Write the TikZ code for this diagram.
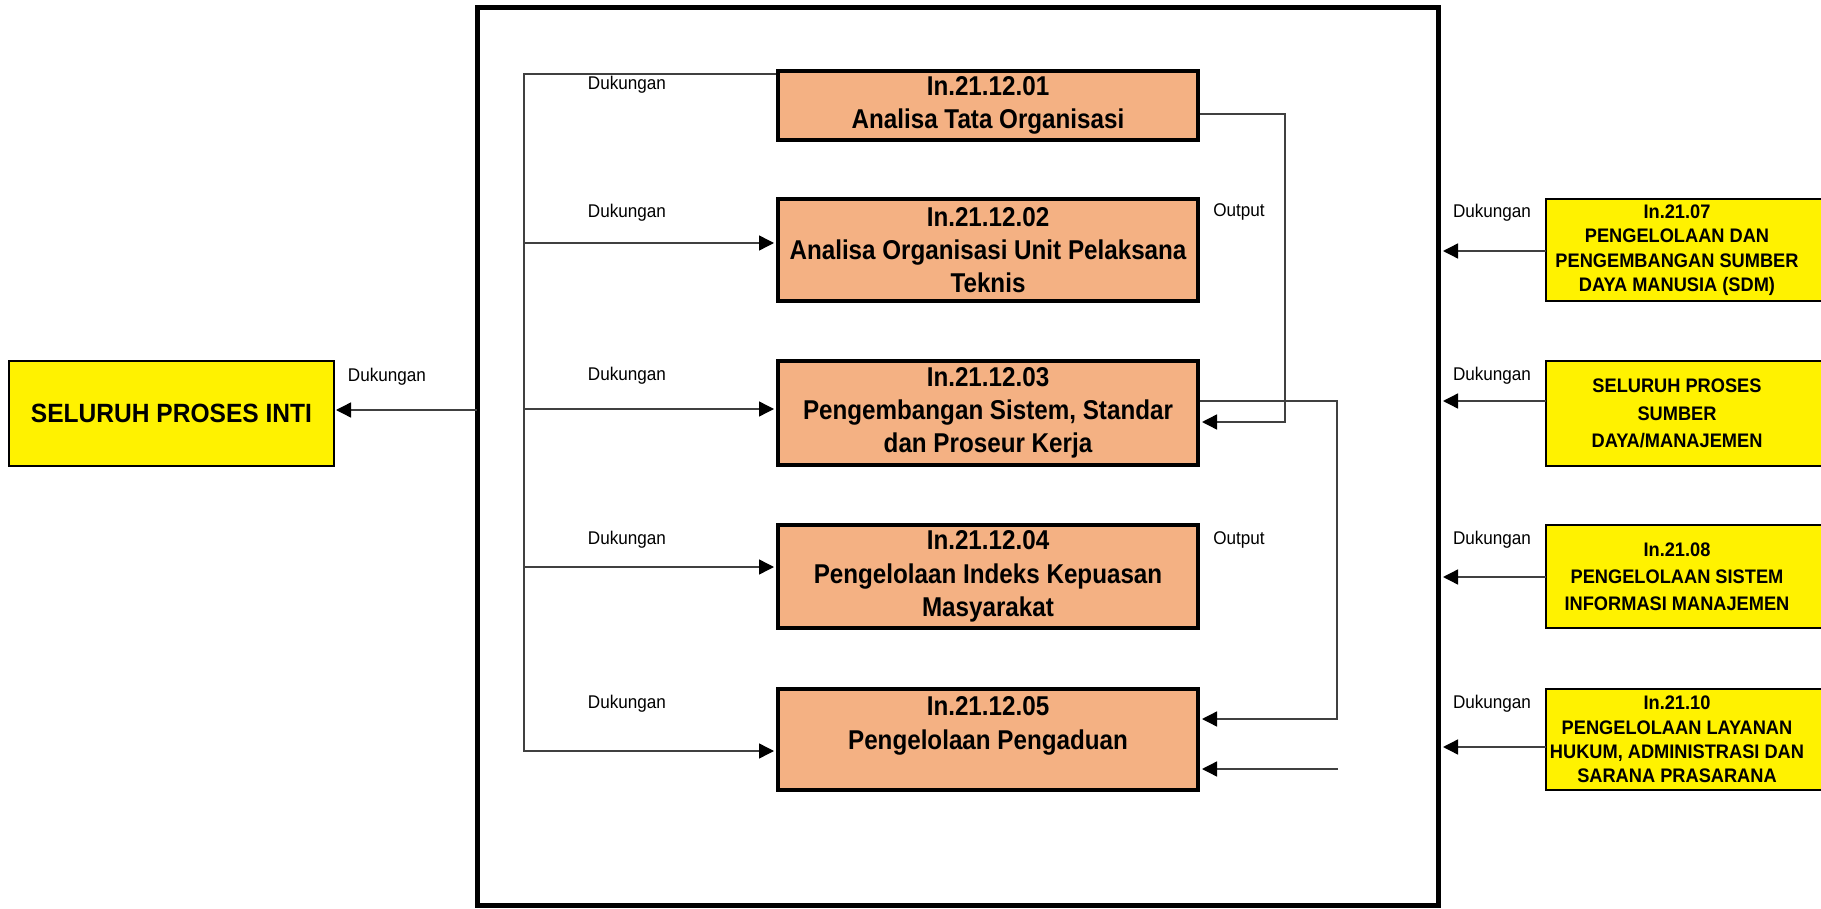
\documentclass[tikz,border=0pt]{standalone}
\usepackage{fontspec}
\newfontfamily\arialn[FakeStretch=0.93]{Liberation Sans}
\newfontfamily\arialnn[FakeStretch=0.89]{Liberation Sans}
\usetikzlibrary{arrows.meta}
\definecolor{procfill}{RGB}{244,177,131}
\colorlet{resfill}{yellow}
\colorlet{wire}{black!75}

\begin{document}
\begin{tikzpicture}[x=0.5pt, y=-0.5pt,
	>={Triangle[length=7.5pt,width=7.5pt,color=black]}, line join=miter,
	sysbox/.style={draw, line width=2.5pt, minimum width=480.5pt, minimum height=448.5pt, inner sep=0pt},
	proc/.style={draw, line width=2pt, fill=procfill, minimum width=210pt, inner sep=0pt, align=center,
		font=\arialnn\bfseries\fontsize{13.6}{16.6}\selectfont},
	res/.style={draw, line width=1pt, fill=resfill, minimum width=139pt, inner sep=0pt},
	restext/.style={inner sep=0pt, align=center, font=\arialn\bfseries\fontsize{9.8}{12.2}\selectfont},
	lbl/.style={inner sep=0pt, font=\arialn\fontsize{9.2}{11}\selectfont},
	flow/.style={wire, line width=0.7pt}]
	
	\useasboundingbox (0,0) rectangle (1821,909);
	
	\node [sysbox] (sys) at (957.5,456.5) {};
	
	\node [proc, minimum height=34.5pt] (p1) at (988,105.5) {In.21.12.01\\Analisa Tata Organisasi};
	\node [proc, minimum height=51pt] (p2) at (988,250) {In.21.12.02\\Analisa Organisasi Unit Pelaksana\\Teknis};
	\node [proc, minimum height=52pt] (p3) at (988,413) {In.21.12.03\\Pengembangan Sistem, Standar\\dan Proseur Kerja};
	\node [proc, minimum height=51.5pt] (p4) at (988,576.5) {In.21.12.04\\Pengelolaan Indeks Kepuasan\\Masyarakat};
	\node [proc, minimum height=50.5pt] (p5) at (988,739.5) {In.21.12.05\\Pengelolaan Pengaduan\\\mbox{}};
	
	\node [res, minimum width=162.5pt, minimum height=52.5pt, align=center,
		font=\arialn\bfseries\fontsize{13.2}{16}\selectfont] (inti) at (171.5,413.5) {SELURUH PROSES INTI};
	
	% resource boxes run past the right edge
	\node [res, minimum height=51pt] (r1) at (1685,250) {};
	\node [res, minimum height=52.5pt] (r2) at (1685,413.5) {};
	\node [res, minimum height=51.5pt] (r3) at (1685,576.5) {};
	\node [res, minimum height=50.5pt] (r4) at (1685,739.5) {};
	\node [restext] (t1) at (1677,250)
		{In.21.07\\PENGELOLAAN DAN\\PENGEMBANGAN SUMBER\\DAYA MANUSIA (SDM)};
	\node [restext, font=\arialn\bfseries\fontsize{9.8}{13.6}\selectfont] (t2) at (1677,413.5)
		{SELURUH PROSES\\SUMBER\\DAYA/MANAJEMEN};
	\node [restext, font=\arialn\bfseries\fontsize{9.8}{13.4}\selectfont] (t3) at (1677,576.5)
		{In.21.08\\PENGELOLAAN SISTEM\\INFORMASI MANAJEMEN};
	\node [restext] (t4) at (1677,739.5)
		{In.21.10\\PENGELOLAAN LAYANAN\\HUKUM, ADMINISTRASI DAN\\SARANA PRASARANA};
	
	% support bus
	\coordinate (bt) at (524,74);
	\coordinate (bb) at (524,751);
	\coordinate (b2) at (524,243);
	\coordinate (b3) at (524,409);
	\coordinate (b4) at (524,567);
	\draw [flow, ->, shorten >=1pt] (bt -| p1.west) -- (bt) -- (bb) -- (bb -| p5.west);
	\foreach \i in {2,3,4}
		\draw [flow, ->, shorten >=1pt] (b\i) -- (b\i -| p\i.west);
	
	% output
	\coordinate (o1) at (1285,114);
	\coordinate (o1b) at (1285,422);
	\draw [flow, ->, shorten >=1pt] (o1 -| p1.east) -- (o1) -- (o1b) -- (o1b -| p3.east);
	\coordinate (o3) at (1337,401);
	\coordinate (o3b) at (1337,719);
	\draw [flow, ->, shorten >=1pt] (o3 -| p3.east) -- (o3) -- (o3b) -- (o3b -| p5.east);
	\coordinate (x5) at (1338,769);
	\draw [flow, ->, shorten >=1pt] (x5) -- (x5 -| p5.east);
	
	\coordinate (li) at (477,410);
	\draw [flow, ->, shorten >=0.5pt] (li) -- (li -| inti.east);
	
	\coordinate (ra1) at (1546,251);
	\coordinate (ra2) at (1546,401);
	\coordinate (ra3) at (1546,577);
	\coordinate (ra4) at (1546,747);
	\foreach \i in {1,...,4}
		\draw [flow, ->, shorten >=1.25pt] (ra\i) -- (ra\i -| sys.east);
	
	\node [lbl] (dk0) at (387,377) {Dukungan};
	\node [lbl] (dk1) at (627,85) {Dukungan};
	\node [lbl] (dk2) at (627,213) {Dukungan};
	\node [lbl] (dk3) at (627,376) {Dukungan};
	\node [lbl] (dk4) at (627,540) {Dukungan};
	\node [lbl] (dk5) at (627,704) {Dukungan};
	\node [lbl] (out1) at (1239,212) {Output};
	\node [lbl] (out2) at (1239,540) {Output};
	\node [lbl] (dr1) at (1492,213) {Dukungan};
	\node [lbl] (dr2) at (1492,376) {Dukungan};
	\node [lbl] (dr3) at (1492,540) {Dukungan};
	\node [lbl] (dr4) at (1492,704) {Dukungan};
	
\end{tikzpicture}
\end{document}
